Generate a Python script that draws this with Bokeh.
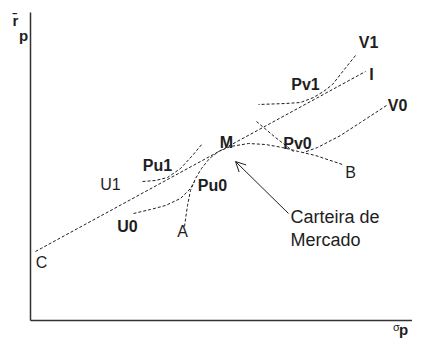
from bokeh.plotting import figure
from bokeh.models import Range1d, Arrow, OpenHead
from bokeh.embed import file_html
from bokeh.resources import INLINE
from bokeh.core.properties import value

# ---- data (diagram coordinates: x = risk sigma_p, y = expected return r_p) ----
axis_y_x = [0, 0]
axis_y_y = [0, 308]
axis_x_x = [0, 394]
axis_x_y = [0, 0]

cml_x = [5, 335]
cml_y = [69, 249]

u1_x = [112, 125, 137, 150, 162, 172]
u1_y = [139, 140, 143, 152, 165, 177]

u0_x = [103, 120, 135, 150, 160, 164]
u0_y = [107, 111, 115, 122, 132, 139]

frontier_x = [154, 157, 160, 165, 171, 179, 188, 200, 218, 235, 252, 268, 285, 312]
frontier_y = [94, 115, 130, 142, 152, 162, 169, 174, 177, 176, 173, 169, 165, 156]

link_x = [226, 245, 263]
link_y = [199, 183, 169]

v0_x = [356, 330, 310, 287, 273]
v0_y = [215, 198, 185, 173, 168]

v1_x = [325, 313, 302, 293, 283, 270, 255, 228]
v1_y = [265, 250, 236, 229, 223, 218, 217, 216]

arrow_start = (258, 107)
arrow_end = (205, 159)

bold_labels = ["V1", "I", "V0", "Pv1", "M", "Pv0", "Pu1", "Pu0", "U0"]
bold_x = [338, 341, 367, 275, 196, 267, 127, 182, 97]
bold_y = [278, 246, 215, 236, 178, 177, 155, 135, 94]

plain_labels = ["B", "U1", "A", "C"]
plain_x = [320, 80, 152, 11]
plain_y = [148, 136, 89, 58]

note_lines = ["Carteira de", "Mercado"]
note_x = [260, 260]
note_y = [104, 81]

y_label = ["r\u0304", "p"]
y_lab_x = [-15, -7]
y_lab_y = [300, 285]

x_label = ["\u03c3", "p"]
x_lab_x = [366, 373]
x_lab_y = [-6, -9]

# ---- figure ----
p = figure(width=412, height=338, x_range=Range1d(-30, 382), y_range=Range1d(-18, 320),
           x_axis_type=None, y_axis_type=None, output_backend="svg",
           toolbar_location=None, min_border=0)
p.grid.visible = False
p.outline_line_color = None
p.background_fill_color = "white"

ink = "#1e1e1e"

p.line(axis_y_x, axis_y_y, line_color="#333333", line_width=1.5)
p.line(axis_x_x, axis_x_y, line_color="#333333", line_width=1.5)

dash = "3 2"
for xs, ys in [(cml_x, cml_y), (u1_x, u1_y), (u0_x, u0_y), (frontier_x, frontier_y),
               (link_x, link_y), (v0_x, v0_y), (v1_x, v1_y)]:
    p.line(xs, ys, line_color=ink, line_width=1, line_dash=dash)

p.add_layout(Arrow(end=OpenHead(size=10, line_width=1, line_color=ink),
                   x_start=arrow_start[0], y_start=arrow_start[1],
                   x_end=arrow_end[0], y_end=arrow_end[1],
                   line_color=ink, line_width=1))

font = value("Liberation Sans")
p.text(x=bold_x, y=bold_y, text=bold_labels, text_font=font, text_font_size="16px",
       text_font_style="bold", text_align="center", text_baseline="middle", text_color=ink)
p.text(x=plain_x, y=plain_y, text=plain_labels, text_font=font, text_font_size="16px",
       text_align="center", text_baseline="middle", text_color=ink)
p.text(x=note_x, y=note_y, text=note_lines, text_font=font, text_font_size="18px",
       text_align="left", text_baseline="middle", text_color=ink)
p.text(x=y_lab_x, y=y_lab_y, text=y_label, text_font=font, text_font_size="15px",
       text_font_style="bold", text_align="center", text_baseline="middle", text_color=ink)
p.text(x=x_lab_x[:1], y=x_lab_y[:1], text=x_label[:1], text_font=font, text_font_size="11px",
       text_align="center", text_baseline="middle", text_color=ink)
p.text(x=x_lab_x[1:], y=x_lab_y[1:], text=x_label[1:], text_font=font, text_font_size="15px",
       text_font_style="bold", text_align="center", text_baseline="middle", text_color=ink)

open("out.html", "w").write(file_html(p, INLINE))
